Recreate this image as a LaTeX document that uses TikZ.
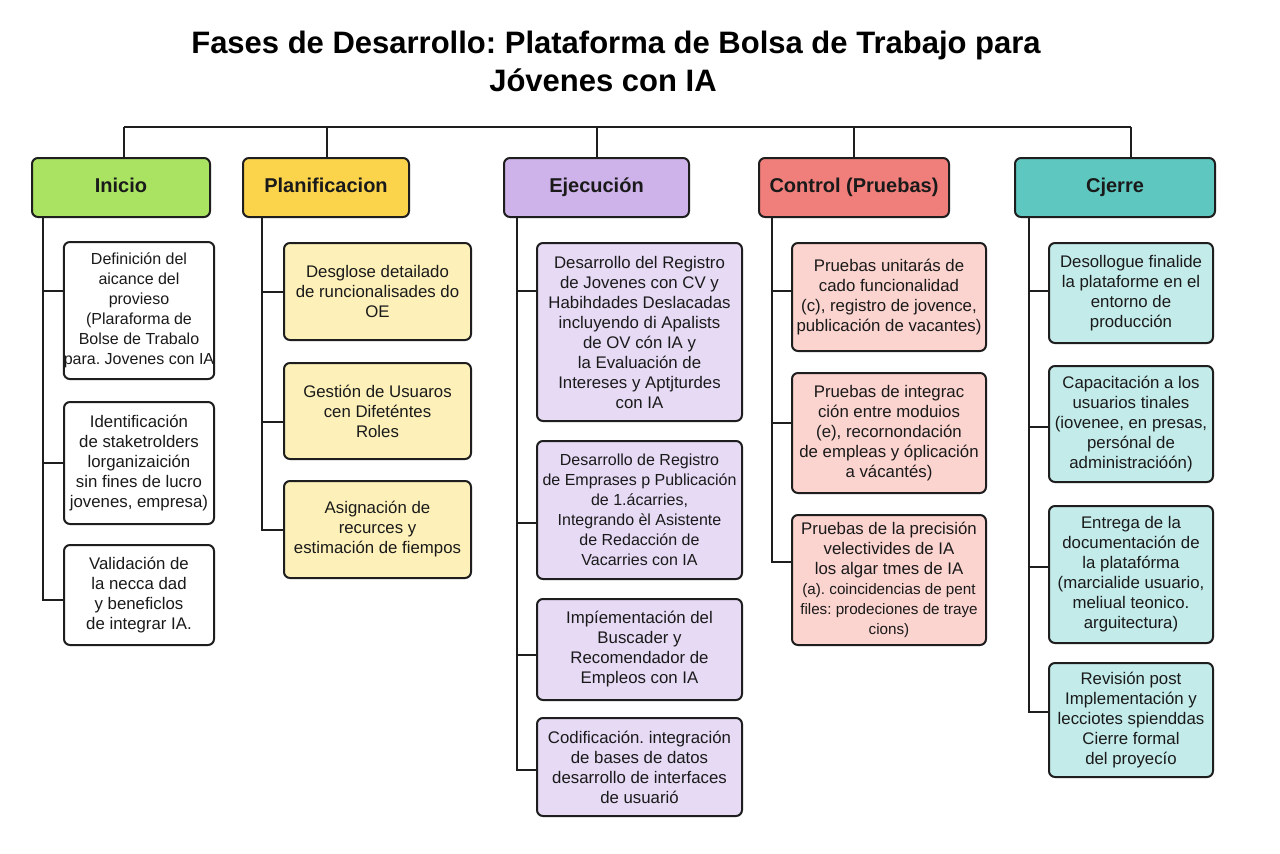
\documentclass[tikz,border=0pt]{standalone}
\usepackage{fontspec}
\setmainfont{Liberation Sans}
\frenchspacing
\newcommand\tfnt{\fontsize{15.5}{17.5}\selectfont\bfseries\frenchspacing}
\newcommand\hfnt{\fontsize{10}{12}\selectfont\bfseries}
\newcommand\kfnt{\fontsize{8.4}{10}\selectfont\frenchspacing}
\newcommand\knarrow{\fontsize{8}{10}\selectfont}
\newcommand\ksmall{\fontsize{7.6}{9.5}\selectfont}
\definecolor{linec}{HTML}{1E1E1E}
\definecolor{txt}{HTML}{1A1A1A}
\definecolor{hIni}{HTML}{AAE262}
\definecolor{hPla}{HTML}{FBD44C}
\definecolor{hEje}{HTML}{CEB2EA}
\definecolor{hCon}{HTML}{F07F7B}
\definecolor{hCie}{HTML}{5EC8C0}
\definecolor{cPla}{HTML}{FDF1B9}
\definecolor{cEje}{HTML}{E6DAF5}
\definecolor{cCon}{HTML}{FBD3CF}
\definecolor{cCie}{HTML}{C3EBEA}
\tikzset{
  phase/.style={draw=linec, line width=1pt, rounded corners=3pt, font=\hfnt, text=txt, inner sep=1pt, minimum height=29.5pt, text height=7.4pt, text depth=2pt},
  task/.style={draw=linec, line width=1pt, rounded corners=3pt, font=\kfnt, text=txt, align=center, inner sep=0pt},
  ttl/.style={font=\tfnt, text=black, inner sep=0pt},
  conn/.style={draw=linec, line width=1pt}
}
\begin{document}
\begin{tikzpicture}[x=0.5pt,y=-0.5pt]
\fill[white] (0,0) rectangle (1280,853);
\useasboundingbox (0,0) rectangle (1280,853);

% title
\node[ttl] (title1) at (616,45) {Fases de Desarrollo: Plataforma de Bolsa de Trabajo para};
\node[ttl] (title2) at (603,80) {J\'ovenes con IA};

% phase headers
\node[phase, fill=hIni, minimum width=89pt]   (h1) at (121,187.5)  {Inicio};
\node[phase, fill=hPla, minimum width=83pt]   (h2) at (326,187.5)  {Planificacion};
\node[phase, fill=hEje, minimum width=92.5pt] (h3) at (596.5,187.5){Ejecución};
\node[phase, fill=hCon, minimum width=95pt]   (h4) at (854,187.5)  {Control (Pruebas)};
\node[phase, fill=hCie, minimum width=100pt]  (h5) at (1115,187.5) {Cjerre};

% bus
\coordinate (busL) at (124,127);
\coordinate (busR) at (1131,127);
\draw[conn] (busL) -- (busR);
\draw[conn] ([xshift=1.5pt]h1.north) -- ([xshift=1.5pt]h1.north |- busL);
\draw[conn] ([xshift=0.5pt]h2.north) -- ([xshift=0.5pt]h2.north |- busL);
\draw[conn] (h3.north) -- (h3.north |- busL);
\draw[conn] (h4.north) -- (h4.north |- busL);
\draw[conn] (busR) -- (busR |- h5.north);

% Inicio tasks
\node[task, font=\knarrow, fill=white, minimum width=75pt, minimum height=68.5pt] (c1) at (139,310.5)
  {Definición del\\aicance del\\provieso\\(Plaraforma de\\Bolse de Trabalo\\para. Jovenes con IA};
\node[task, fill=white, minimum width=75pt, minimum height=61pt] (c2) at (139,463)
  {Identificación\\de staketrolders\\lorganizaición\\sin fines de lucro\\jovenes, empresa)};
\node[task, fill=white, minimum width=75pt, minimum height=50pt] (c3) at (139,595)
  {Validación de\\la necca dad\\y beneficlos\\de integrar IA.};

% Planificacion tasks
\node[task, fill=cPla, minimum width=93.5pt, minimum height=48.5pt] (p1) at (377.5,291.5)
  {Desglose detailado\\de runcionalisades do\\OE};
\node[task, fill=cPla, minimum width=93.5pt, minimum height=48pt] (p2) at (377.5,411)
  {Gestión de Usuaros\\cen Difeténtes\\Roles};
\node[task, fill=cPla, minimum width=93.5pt, minimum height=48.5pt] (p3) at (377.5,529.5)
  {Asignación de\\recurces y\\estimación de fiempos};

% Ejecucion tasks
\node[task, fill=cEje, minimum width=102.5pt, minimum height=89pt] (e1) at (639.5,332)
  {Desarrollo del Registro\\de Jovenes con CV y\\Habihdades Deslacadas\\incluyendo di Apalists\\de OV cón IA y\\la Evaluación de\\Intereses y Aptjturdes\\con IA};
\node[task, font=\knarrow, fill=cEje, minimum width=102.5pt, minimum height=69pt] (e2) at (639.5,510)
  {Desarrollo de Registro\\de Emprases p Publicación\\de 1.ácarries,\\Integrando èl Asistente\\de Redacción de\\Vacarries con IA};
\node[task, fill=cEje, minimum width=102.5pt, minimum height=50.5pt] (e3) at (639.5,649.5)
  {Impíementación del\\Buscader y\\Recomendador de\\Empleos con IA};
\node[task, fill=cEje, minimum width=102.5pt, minimum height=49pt] (e4) at (639.5,767)
  {Codificación. integración\\de bases de datos\\desarrollo de interfaces\\de usuarió};

% Control tasks
\node[task, fill=cCon, minimum width=97pt, minimum height=54pt] (k1) at (889,297)
  {Pruebas unitarás de\\cado funcionalidad\\(c), registro de jovence,\\publicación de vacantes)};
\node[task, fill=cCon, minimum width=97pt, minimum height=60pt] (k2) at (889,433)
  {Pruebas de integrac\\ción entre moduios\\(e), recornondación\\de empleas y óplicación\\a vácantés)};
\node[task, fill=cCon, minimum width=97pt, minimum height=65pt] (k3) at (889,580)
  {Pruebas de la precisión\\velectivides de IA\\los algar tmes de IA\\{\ksmall (a). coincidencias de pent}\\{\ksmall files: prodeciones de traye}\\{\ksmall cions)}};

% Cierre tasks
\node[task, fill=cCie, minimum width=82pt, minimum height=50pt] (z1) at (1131,293)
  {Desollogue finalide\\la plataforme en el\\entorno de\\producción};
\node[task, fill=cCie, minimum width=82pt, minimum height=58pt] (z2) at (1131,424)
  {Capacitación a los\\usuarios tinales\\(iovenee, en presas,\\persónal de\\administracióón)};
\node[task, fill=cCie, minimum width=82pt, minimum height=68.5pt] (z3) at (1131,574.5)
  {Entrega de la\\documentación de\\la platafórma\\(marcialide usuario,\\meliual teonico.\\arguitectura)};
\node[task, fill=cCie, minimum width=82pt, minimum height=57pt] (z4) at (1131,720)
  {Revisión post\\Implementación y\\lecciotes spienddas\\Cierre formal\\del proyecío};

% column connectors
\coordinate (v1) at ([xshift=6pt]h1.south west);
\coordinate (v2) at ([xshift=10pt]h2.south west);
\coordinate (v3) at ([xshift=7pt]h3.south west);
\coordinate (v4) at ([xshift=7pt]h4.south west);
\coordinate (v5) at ([xshift=7.5pt]h5.south west);

\draw[conn] (v1) |- ([yshift=9.75pt]c1.west);
\draw[conn] (v1) |- (c2.west);
\draw[conn] (v1) |- ([yshift=-2.5pt]c3.west);

\draw[conn] (v2) |- (p1.west);
\draw[conn] (v2) |- ([yshift=-5.5pt]p2.west);
\draw[conn] (v2) |- (p3.west);

\draw[conn] (v3) |- ([yshift=20.5pt]e1.west);
\draw[conn] (v3) |- ([yshift=-6.5pt]e2.west);
\draw[conn] (v3) |- ([yshift=-2.75pt]e3.west);
\draw[conn] (v3) |- ([yshift=-1.5pt]e4.west);

\draw[conn] (v4) |- ([yshift=3pt]k1.west);
\draw[conn] (v4) |- ([yshift=5pt]k2.west);
\draw[conn] (v4) |- ([yshift=9pt]k3.west);

\draw[conn] (v5) |- ([yshift=1pt]z1.west);
\draw[conn] (v5) |- ([yshift=-1.5pt]z2.west);
\draw[conn] (v5) |- ([yshift=3.75pt]z3.west);
\draw[conn] (v5) |- ([yshift=4pt]z4.west);
\end{tikzpicture}
\end{document}
